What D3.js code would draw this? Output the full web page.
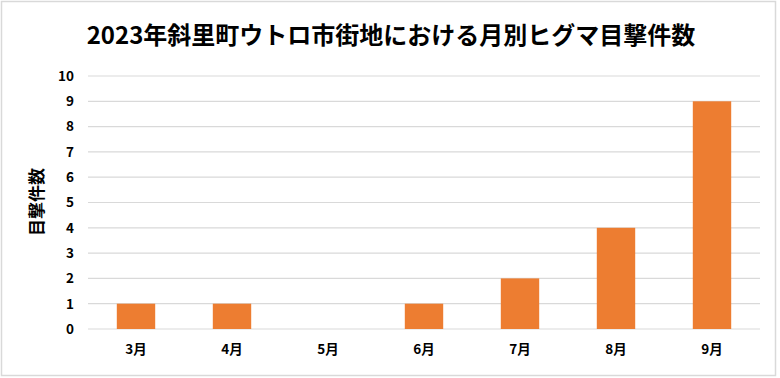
<!DOCTYPE html>
<html><head><meta charset="utf-8">
<script src="https://cdn.jsdelivr.net/npm/d3@7"></script>
<style>
html,body{margin:0;padding:0;background:#fff;}
svg{display:block;}
text{font-family:"Noto Sans CJK JP","Noto Sans",sans-serif;font-weight:bold;fill:#000;}
</style></head>
<body>
<script>
const title = "2023年斜里町ウトロ市街地における月別ヒグマ目撃件数";
const yLabel = "目撃件数";
const categories = ["3月","4月","5月","6月","7月","8月","9月"];
const values = [1,1,0,1,2,4,9];
const yTicks = [0,1,2,3,4,5,6,7,8,9,10];

const W = 780, H = 378;
const svg = d3.select("body").append("svg").attr("width", W).attr("height", H);

svg.append("rect").attr("x",1.5).attr("y",1.5).attr("width",774).attr("height",374)
  .attr("fill","#fff").attr("stroke","#d9d9d9").attr("stroke-width",1.5);

const x = d3.scaleBand().domain(categories).range([88, 760]).paddingInner(0.6).paddingOuter(0.3);
const y = d3.scaleLinear().domain([0, 10]).range([329, 76]);

// gridlines
svg.append("g").selectAll("line").data(yTicks).join("line")
  .attr("x1",88).attr("x2",760)
  .attr("y1",d=>y(d)).attr("y2",d=>y(d))
  .attr("stroke","#d9d9d9").attr("stroke-width",1.2);

// bars
svg.append("g").selectAll("rect").data(values).join("rect")
  .attr("x",(d,i)=>x(categories[i]))
  .attr("width",x.bandwidth())
  .attr("y",d=>y(d))
  .attr("height",d=>y(0)-y(d))
  .attr("fill","#ED7D31");

// y axis
const ya = svg.append("g").attr("transform","translate(74,0)")
  .call(d3.axisLeft(y).tickValues(yTicks).tickSize(0).tickPadding(0));
ya.select(".domain").remove();
ya.selectAll("text").attr("font-size",13.5).style("font-weight","bold")
  .style("font-family",'"Noto Sans CJK JP","Noto Sans",sans-serif').attr("fill","#000");

// x axis
const xa = svg.append("g").attr("transform","translate(0,344)")
  .call(d3.axisBottom(x).tickSize(0).tickPadding(0));
xa.select(".domain").remove();
xa.selectAll("text").attr("font-size",13.5).style("font-weight","bold")
  .style("font-family",'"Noto Sans CJK JP","Noto Sans",sans-serif').attr("fill","#000");

// title
svg.append("text").attr("x",391).attr("y",44).attr("text-anchor","middle")
  .attr("font-size",24).text(title);

// y label
svg.append("text").attr("transform","translate(43,202) rotate(-90)")
  .attr("text-anchor","middle").attr("font-size",17).text(yLabel);
</script>
</body></html>
